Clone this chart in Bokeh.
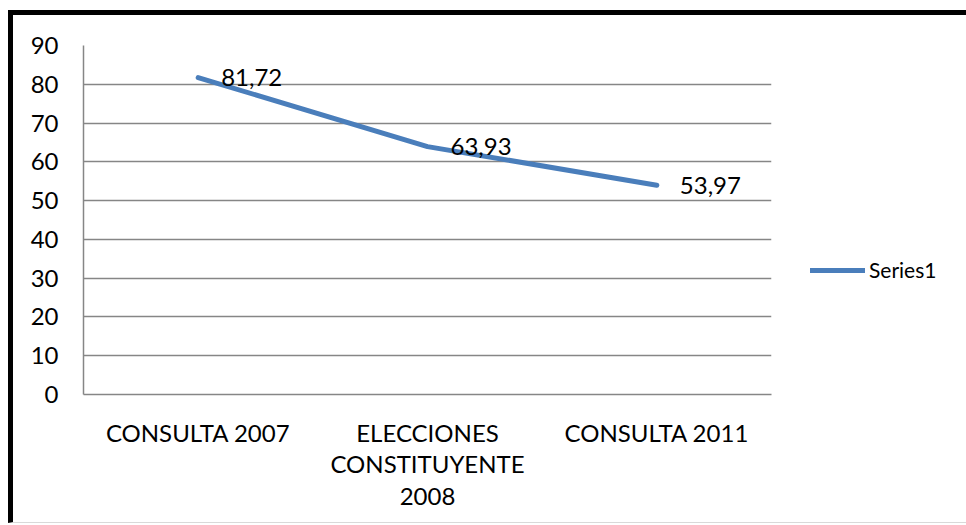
from bokeh.plotting import figure
from bokeh.models import (ColumnDataSource, LabelSet, Legend, LegendItem,
                          FixedTicker, Range1d, FactorRange)
from bokeh.core.properties import value
from bokeh.embed import file_html
from bokeh.resources import INLINE

# ---- data ----
categories = ["CONSULTA 2007", "ELECCIONES\nCONSTITUYENTE\n2008", "CONSULTA 2011"]
values = [81.72, 63.93, 53.97]
value_labels = [f"{v:.2f}".replace(".", ",") for v in values]
y_ticks = [0, 10, 20, 30, 40, 50, 60, 70, 80, 90]
series_name = "Series1"

FONT = "Lato"
GRID = "#868686"
BLUE = "#4A7EBB"

src = ColumnDataSource(dict(cat=categories, val=values, lab=value_labels))

p = figure(x_range=FactorRange(*categories, range_padding=0),
           y_range=Range1d(0, 90),
           frame_width=688, frame_height=349,
           min_border_left=70, min_border_right=187,
           min_border_top=30, min_border_bottom=128,
           output_backend="svg", toolbar_location=None)

p.styles = {"border-top": "5px solid black", "border-left": "5px solid black",
            "border-bottom": "1px solid #d9d9d9",
            "margin-top": "10px", "margin-left": "8px"}
p.outline_line_color = None
p.background_fill_color = "white"
p.border_fill_color = "white"

# grid
p.xgrid.visible = False
p.ygrid.grid_line_color = GRID
p.ygrid.grid_line_width = 1.5

# y axis
p.yaxis.ticker = FixedTicker(ticks=y_ticks)
p.yaxis.axis_line_color = GRID
p.yaxis.axis_line_width = 1.5
p.yaxis.major_tick_line_color = None
p.yaxis.minor_tick_line_color = None
p.yaxis.major_label_standoff = 19
p.yaxis.major_label_text_font = FONT
p.yaxis.major_label_text_font_size = "24px"
p.yaxis.major_label_text_color = "black"

# x axis
p.xaxis.axis_line_color = GRID
p.xaxis.axis_line_width = 1.5
p.xaxis.major_tick_line_color = None
p.xaxis.minor_tick_line_color = None
p.xaxis.major_label_standoff = 17
p.xaxis.major_label_text_font = FONT
p.xaxis.major_label_text_font_size = "24px"
p.xaxis.major_label_text_color = "black"
p.xaxis.major_label_text_line_height = 1.1

# series
r = p.line(x="cat", y="val", source=src, line_color=BLUE, line_width=5,
           line_cap="round", line_join="round")

labels = LabelSet(x="cat", y="val", text="lab", source=src,
                  x_offset=23, y_offset=0, text_baseline="middle",
                  text_align="left", text_font=value(FONT),
                  text_font_size="24px", text_color="black")
p.add_layout(labels)

legend = Legend(items=[LegendItem(label=series_name, renderers=[r])],
                location=(39, 112))
legend.border_line_color = None
legend.background_fill_alpha = 0
legend.padding = 0
legend.margin = 0
legend.glyph_width = 55
legend.glyph_height = 24
legend.label_height = 24
legend.label_standoff = 4
legend.label_text_font = FONT
legend.label_text_font_size = "21px"
legend.label_text_color = "black"
p.add_layout(legend, "right")

open("out.html", "w").write(file_html(p, INLINE))
